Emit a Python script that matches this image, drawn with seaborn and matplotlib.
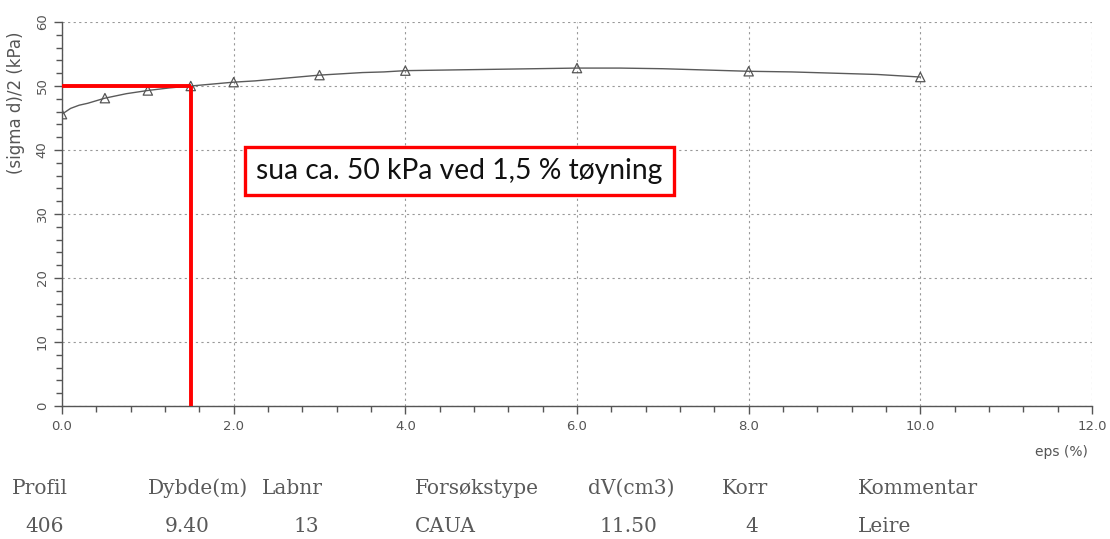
import matplotlib
matplotlib.use("Agg")
import matplotlib.pyplot as plt
from matplotlib.ticker import MultipleLocator, FormatStrFormatter
import seaborn as sns
import pandas as pd

# Measured curve: axial strain (%) vs half deviator stress (kPa)
eps = [0.0, 0.1, 0.2, 0.3, 0.5, 0.75, 1.0, 1.25, 1.5, 1.75, 2.0, 2.25, 2.5,
       2.75, 3.0, 3.25, 3.5, 3.75, 4.0, 4.5, 5.0, 5.5, 6.0, 6.5, 7.0, 7.5,
       8.0, 8.5, 9.0, 9.5, 10.0]
tau = [45.6, 46.5, 47.0, 47.3, 48.1, 48.8, 49.3, 49.7, 50.0, 50.3, 50.6, 50.8,
       51.1, 51.4, 51.7, 51.9, 52.1, 52.2, 52.4, 52.5, 52.6, 52.7, 52.8, 52.8,
       52.7, 52.5, 52.3, 52.2, 52.0, 51.8, 51.4]
# Strains where the plotter placed its triangle markers
marker_eps = [0.0, 0.5, 1.0, 1.5, 2.0, 3.0, 4.0, 6.0, 8.0, 10.0]

# Undrained strength pick
su_eps = 1.5
su_val = 50

# Test header table
header = ["Profil", "Dybde(m)", "Labnr", "Forsøkstype", "dV(cm3)", "Korr", "Kommentar"]
values = ["406", "9.40", "13", "CAUA", "11.50", "4", "Leire"]

df = pd.DataFrame({"eps": eps, "tau": tau})
dm = df[df["eps"].isin(marker_eps)]

sns.set_theme(style="white")
plt.rcParams["font.family"] = ["DejaVu Sans"]

fig = plt.figure(figsize=(11.10, 5.39), dpi=100)
ax = fig.add_axes([62 / 1110, 1 - 406 / 539, (1092 - 62) / 1110, (406 - 22) / 539])

grey = "#555555"
sns.lineplot(data=df, x="eps", y="tau", ax=ax, color="#5a5a5a", lw=1.0)
sns.scatterplot(data=dm, x="eps", y="tau", ax=ax, marker="^", s=45,
                facecolor="none", edgecolor="#555555", linewidth=0.9, zorder=4)

ax.set_xlim(0, 12)
ax.set_ylim(0, 60)
ax.xaxis.set_major_locator(MultipleLocator(2))
ax.xaxis.set_minor_locator(MultipleLocator(0.4))
ax.yaxis.set_major_locator(MultipleLocator(10))
ax.yaxis.set_minor_locator(MultipleLocator(2))
ax.xaxis.set_major_formatter(FormatStrFormatter("%.1f"))
ax.yaxis.set_major_formatter(FormatStrFormatter("%d"))

ax.grid(True, which="major", linestyle=(0, (2, 3)), color="#999999", lw=0.8)
for side in ("top", "right"):
    ax.spines[side].set_visible(False)
for side in ("left", "bottom"):
    ax.spines[side].set_color(grey)
    ax.spines[side].set_linewidth(1.0)
ax.tick_params(which="major", direction="out", length=6, width=1, color=grey,
               labelcolor=grey, labelsize=9.5, left=True, bottom=True)
ax.tick_params(which="minor", direction="out", length=4, width=1, color=grey,
               left=True, bottom=True)
for lbl in ax.get_yticklabels():
    lbl.set_rotation(90)
    lbl.set_va("center")
ax.tick_params(axis="x", pad=4)

ax.set_xlabel("")
ax.set_ylabel("(sigma d)/2 (kPa)", color=grey, fontsize=12)
ax.yaxis.set_label_coords(-0.036, 0.79)
fig.text(1088 / 1110, 1 - 452 / 539, "eps (%)", ha="right", va="center",
         color=grey, fontsize=10)

# Red marking of the strength pick
ax.plot([0, su_eps], [su_val, su_val], color="#ff0000", lw=2.8, zorder=5,
        solid_capstyle="butt")
ax.plot([su_eps, su_eps], [0, su_val], color="#ff0000", lw=2.8, zorder=5,
        solid_capstyle="butt")

ax.text(4.63, 36.7, "sua ca. 50 kPa ved 1,5 % tøyning", ha="center", va="center",
        fontsize=20.3, family="Lato", color="#111111", zorder=6,
        bbox=dict(boxstyle="square,pad=0.4", facecolor="white",
                  edgecolor="#ff0000", linewidth=2.4))

# Header table under the chart
col_x = [12, 148, 262, 415, 588, 722, 858]
val_x = [25, 165, 293, 415, 600, 745, 858]
for name, x in zip(header, col_x):
    fig.text(x / 1110, 1 - 488 / 539, name, ha="left", va="center",
             family="DejaVu Serif", fontsize=14.5, color="#5a5a5a")
for v, x in zip(values, val_x):
    fig.text(x / 1110, 1 - 527 / 539, v, ha="left", va="center",
             family="DejaVu Serif", fontsize=14.5, color="#5a5a5a")

fig.savefig("out.png", dpi=100, facecolor="white")
